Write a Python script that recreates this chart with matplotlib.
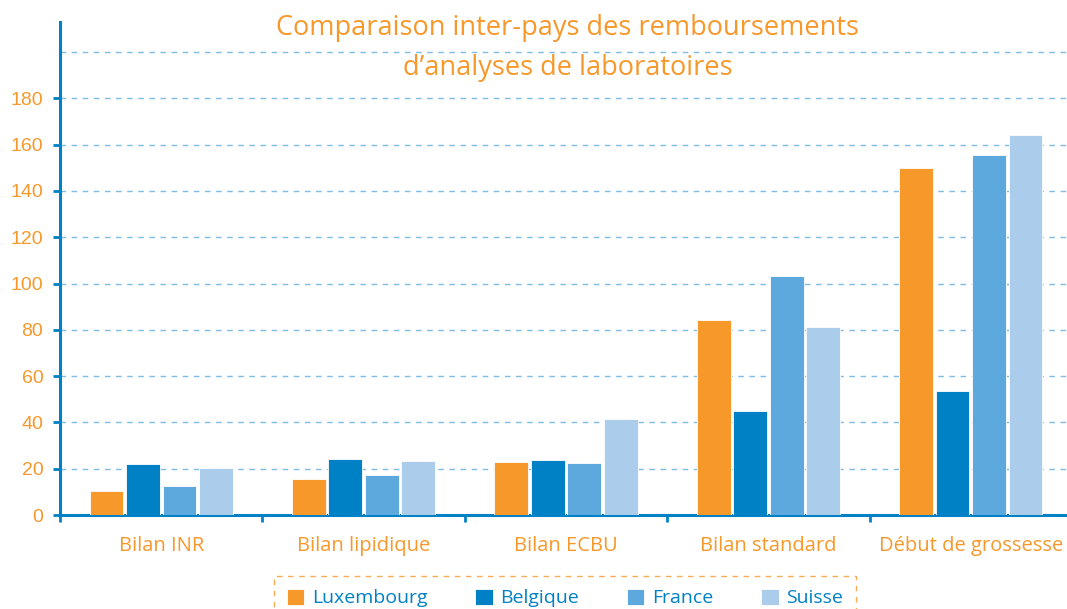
import numpy as np
import matplotlib.pyplot as plt

# examens et pays
examens = ['Bilan INR', 'Bilan lipidique', 'Bilan ECBU', 'Bilan standard', 'Début de grossesse']
pays = ['Luxembourg', 'Belgique', 'France', 'Suisse']

luxembourg = [10.3, 15.5, 22.9, 84.2, 150.0]
belgique = [22.0, 24.2, 23.7, 45.0, 53.6]
france = [12.5, 17.3, 22.5, 103.3, 155.5]
suisse = [20.4, 23.3, 41.5, 81.3, 164.3]

yticks = [0, 20, 40, 60, 80, 100, 120, 140, 160, 180]

orange = '#F7982A'
bleu = '#0081C6'
couleurs = [orange, bleu, '#5DA9DD', '#ABCDEB']
series = [luxembourg, belgique, france, suisse]

plt.rcParams['font.family'] = ['Open Sans', 'DejaVu Sans']

fig = plt.figure(figsize=(10.67, 6.09), dpi=100)
ax = fig.add_axes([60/1067, 94/609, 1012/1067, 493/609])

x = np.arange(len(examens))
pas = 0.18
for i, (vals, c) in enumerate(zip(series, couleurs)):
    ax.bar(x + (i - 1.5) * pas, vals, width=0.167, color=c, edgecolor='white',
           linewidth=0.6, label=pays[i], zorder=3)

ax.set_xlim(-0.5, len(examens) - 0.5)
ax.set_ylim(0, 213)

# grille pointillee
for g in range(20, 201, 20):
    ax.axhline(g, color='#7FBCE6', linestyle=(0, (4, 4)), linewidth=1, zorder=1)

ax.set_yticks(yticks)
ax.set_yticklabels([str(v) for v in yticks], family='Liberation Sans', fontsize=14, color=orange)
ax.tick_params(axis='y', length=5, width=2, color=bleu, direction='out', pad=7)

ax.set_xticks(x)
ax.set_xticklabels(examens, fontsize=14.5, color=orange)
ax.tick_params(axis='x', length=0, pad=15)
ax.set_xticks(np.arange(-0.5, len(examens) - 1, 1.0), minor=True)
ax.tick_params(axis='x', which='minor', length=5, width=2, color=bleu, direction='out')

for s in ['top', 'right']:
    ax.spines[s].set_visible(False)
for s in ['left', 'bottom']:
    ax.spines[s].set_color(bleu)
    ax.spines[s].set_linewidth(2.2)

fig.text(568/1067, 1 - 28/609, 'Comparaison inter-pays des remboursements',
         ha='center', va='center', fontsize=19.5, color=orange)
fig.text(568/1067, 1 - 68/609, 'd\u2019analyses de laboratoires',
         ha='center', va='center', fontsize=19.5, color=orange)

leg = fig.legend(loc='upper center', bbox_to_anchor=(565/1067, 1 - 576/609), ncol=4,
                 fontsize=14, handlelength=0.9, handleheight=0.9, handletextpad=0.4,
                 columnspacing=2.45, borderpad=0.65, borderaxespad=0,
                 fancybox=False, frameon=True)
leg.get_frame().set_edgecolor(orange)
leg.get_frame().set_linestyle((0, (4, 4)))
leg.get_frame().set_linewidth(1)
for t in leg.get_texts():
    t.set_color(bleu)

fig.savefig('out.png', dpi=100)
